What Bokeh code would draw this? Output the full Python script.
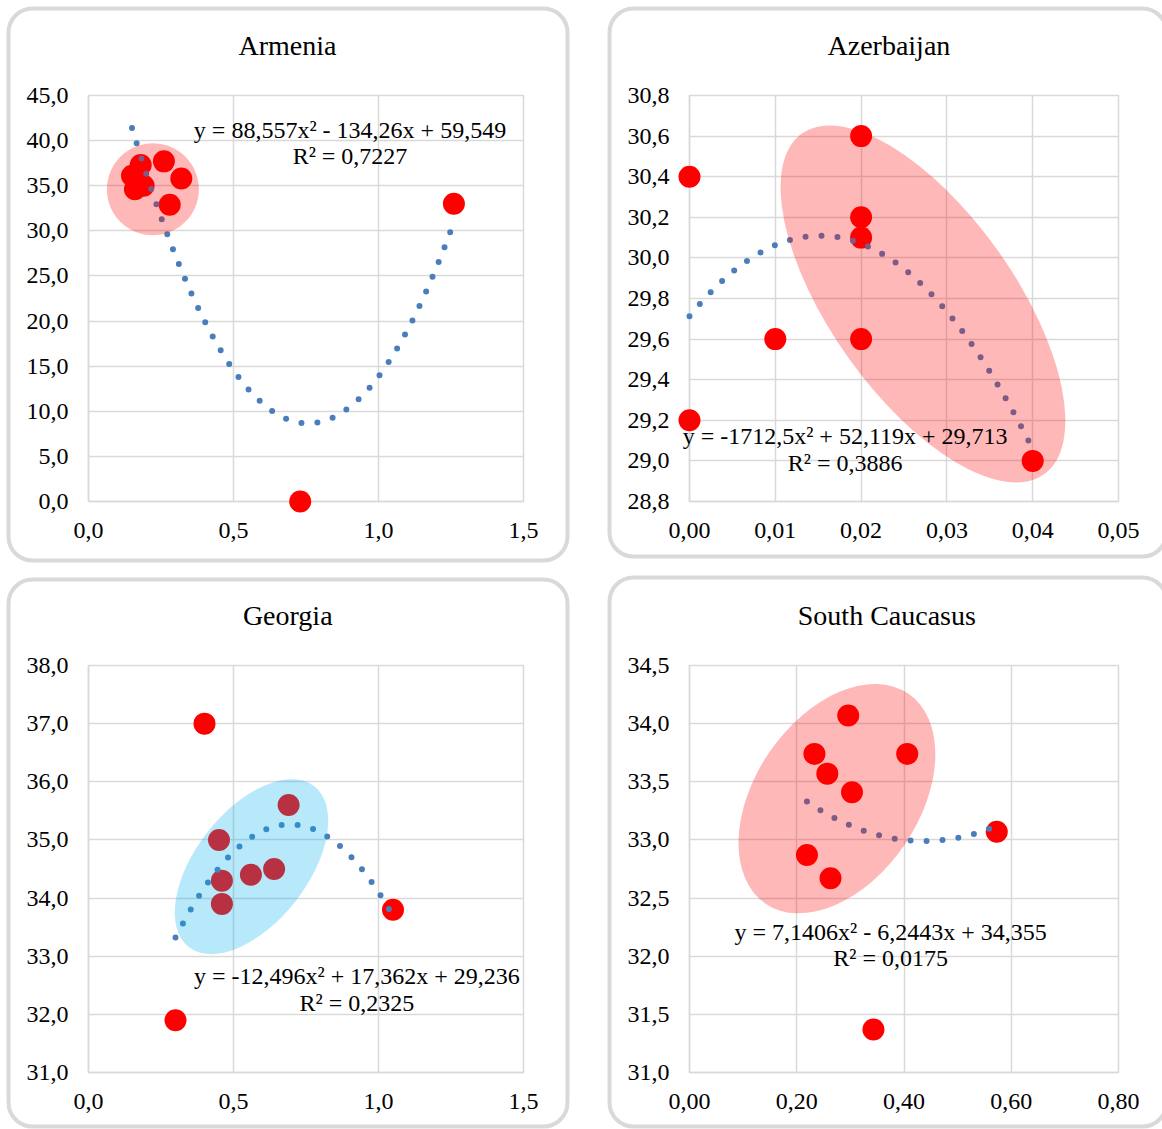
import math
import numpy as np
from bokeh.plotting import figure
from bokeh.layouts import column, row
from bokeh.models import Range1d, FixedTicker, CustomJSTickFormatter
from bokeh.core.properties import value
from bokeh.embed import file_html
from bokeh.resources import INLINE

SERIF = "Liberation Serif"
GRID = "#d9d9d9"
TREND = "#4a7ebb"
POINT = "#ff0000"

# ---------------- data ----------------
# Armenia
arm_x = [0.15, 0.16, 0.18, 0.19, 0.26, 0.32, 0.28, 1.26, 0.73]
arm_y = [36.1, 34.6, 37.3, 35.0, 37.7, 35.8, 32.9, 33.0, 0.0]
arm_fit = [88.557, -134.26, 59.549]
arm_eq = ["y = 88,557x² - 134,26x + 59,549", "R² = 0,7227"]
arm_xticks = [0.0, 0.5, 1.0, 1.5]
arm_yticks = [0, 5, 10, 15, 20, 25, 30, 35, 40, 45]

# Azerbaijan
aze_x = [0.00, 0.00, 0.01, 0.02, 0.02, 0.02, 0.02, 0.04]
aze_y = [30.4, 29.2, 29.6, 30.6, 30.2, 30.1, 29.6, 29.0]
aze_fit = [-1712.5, 52.119, 29.713]
aze_eq = ["y = -1712,5x² + 52,119x + 29,713", "R² = 0,3886"]
aze_xticks = [0.00, 0.01, 0.02, 0.03, 0.04, 0.05]
aze_yticks = [28.8, 29.0, 29.2, 29.4, 29.6, 29.8, 30.0, 30.2, 30.4, 30.6, 30.8]

# Georgia
geo_x = [0.40, 0.30, 1.05, 0.69, 0.45, 0.46, 0.46, 0.56, 0.64]
geo_y = [37.0, 31.9, 33.8, 35.6, 35.0, 34.3, 33.9, 34.4, 34.5]
geo_fit = [-12.496, 17.362, 29.236]
geo_eq = ["y = -12,496x² + 17,362x + 29,236", "R² = 0,2325"]
geo_xticks = [0.0, 0.5, 1.0, 1.5]
geo_yticks = [31, 32, 33, 34, 35, 36, 37, 38]

# South Caucasus
sc_x = [0.296, 0.233, 0.406, 0.257, 0.303, 0.219, 0.263, 0.343, 0.573]
sc_y = [34.07, 33.74, 33.74, 33.57, 33.41, 32.87, 32.67, 31.37, 33.07]
sc_fit = [7.1406, -6.2443, 34.355]
sc_eq = ["y = 7,1406x² - 6,2443x + 34,355", "R² = 0,0175"]
sc_xticks = [0.00, 0.20, 0.40, 0.60, 0.80]
sc_yticks = [31.0, 31.5, 32.0, 32.5, 33.0, 33.5, 34.0, 34.5]


def fmt(digits):
    return CustomJSTickFormatter(
        code="return tick.toFixed(%d).replace('.', ',')" % digits)


def panel(title, xs, ys, fit, eq, xr, yr, xticks, yticks, xdig, ydig,
          origin, size, frame, box, title_pos, eq_pos, shade):
    """origin/frame/box/title_pos/eq_pos are page pixel positions."""
    ox, oy = origin
    w, h = size
    fl, ft, fr, fb = frame
    fw, fh = fr - fl, fb - ft
    p = figure(width=w, height=h, x_range=Range1d(*xr), y_range=Range1d(*yr),
               output_backend="svg", toolbar_location=None,
               min_border_left=fl - ox, min_border_top=ft - oy,
               min_border_right=ox + w - fr, min_border_bottom=oy + h - fb,
               background_fill_color="white", border_fill_color="white")
    p.outline_line_color = GRID
    p.outline_line_width = 1.5

    # page pixel -> data helpers
    def dx(px):
        return xr[0] + (px - fl) / fw * (xr[1] - xr[0])

    def dy(py):
        return yr[1] - (py - ft) / fh * (yr[1] - yr[0])

    for ax, ticks, dig, stand in ((p.xaxis[0], xticks, xdig, 21),
                                  (p.yaxis[0], yticks, ydig, 20)):
        ax.ticker = FixedTicker(ticks=ticks)
        ax.formatter = fmt(dig)
        ax.axis_line_color = GRID
        ax.axis_line_width = 1.5
        ax.major_tick_line_color = None
        ax.minor_tick_line_color = None
        ax.major_tick_out = 0
        ax.major_tick_in = 0
        ax.major_label_standoff = stand
        ax.major_label_text_font = SERIF
        ax.major_label_text_font_size = "24px"
        ax.major_label_text_color = "black"
    for g in (p.xgrid[0], p.ygrid[0]):
        g.grid_line_color = GRID
        g.grid_line_width = 1.5

    # outer rounded panel frame
    bl, bt, br, bb = box
    p.rect(x=[dx((bl + br) / 2)], y=[dy((bt + bb) / 2)],
           width=br - bl - 4, height=bb - bt - 4,
           width_units="screen", height_units="screen",
           fill_alpha=0, line_color=GRID, line_width=4, border_radius=24,
           level="overlay")

    # panel title
    tx0, tb = title_pos
    p.text(x=[dx(tx0)], y=[dy(tb)], text=[title], text_font=value(SERIF),
           text_font_size=value("28px"), text_color="black",
           text_align="left", text_baseline="alphabetic", level="overlay")

    # observations
    p.scatter(xs, ys, size=22, color=POINT, line_width=0, level="overlay")

    # polynomial trend line from the printed coefficients
    a, b, c = fit
    tx = np.linspace(min(xs), max(xs), 300)
    p.line(tx, a * tx ** 2 + b * tx + c, line_color=TREND, line_width=6,
           line_dash="0 16", line_cap="round", level="overlay")

    # highlighted group
    cx, cy, ew, eh, ang, col = shade
    p.ellipse(x=[cx], y=[cy], width=ew, height=eh, width_units="screen",
              height_units="screen", angle=math.radians(ang),
              fill_color=col, fill_alpha=0.28, line_color=None, level="overlay")

    # trend equation
    ex, eb1, eb2 = eq_pos
    p.text(x=[dx(ex), dx(ex)], y=[dy(eb1), dy(eb2)], text=eq,
           text_font=value(SERIF), text_font_size=value("24px"),
           text_color="black", text_align="center",
           text_baseline="alphabetic", level="overlay")
    return p


p1 = panel("Armenia", arm_x, arm_y, arm_fit, arm_eq, (0, 1.5), (0, 45),
           arm_xticks, arm_yticks, 1, 1,
           origin=(0, 0), size=(588, 569), frame=(88, 95, 523, 501),
           box=(6, 6, 569, 562), title_pos=(238, 45),
           eq_pos=(349.5, 129, 155),
           shade=(0.222, 34.6, 92, 92, 0, "#ff0000"))
p2 = panel("Azerbaijan", aze_x, aze_y, aze_fit, aze_eq, (0, 0.05), (28.8, 30.8),
           aze_xticks, aze_yticks, 2, 1,
           origin=(588, 0), size=(574, 569), frame=(689, 95, 1118, 501),
           box=(607, 6, 1168, 558), title_pos=(827, 45),
           eq_pos=(844.6, 435.6, 462),
           shade=(0.02721, 29.773, 418, 184, -54.6, "#ff0000"))
p3 = panel("Georgia", geo_x, geo_y, geo_fit, geo_eq, (0, 1.5), (31, 38),
           geo_xticks, geo_yticks, 1, 1,
           origin=(0, 569), size=(588, 560), frame=(88, 665, 523, 1072),
           box=(6, 577, 569, 1128), title_pos=(242.4, 615),
           eq_pos=(356.3, 975, 1002),
           shade=(0.562, 34.54, 204, 112, 52, "#00b0f0"))
p4 = panel("South Caucasus", sc_x, sc_y, sc_fit, sc_eq, (0, 0.8), (31, 34.5),
           sc_xticks, sc_yticks, 2, 1,
           origin=(588, 569), size=(574, 560), frame=(689, 665, 1118, 1072),
           box=(607, 575, 1168, 1128), title_pos=(797.3, 615),
           eq_pos=(890.2, 931, 957),
           shade=(0.2749, 33.355, 254, 164, 55.8, "#ff0000"))

layout = column(row(p1, p2), row(p3, p4))
open("out.html", "w").write(file_html(layout, INLINE))
